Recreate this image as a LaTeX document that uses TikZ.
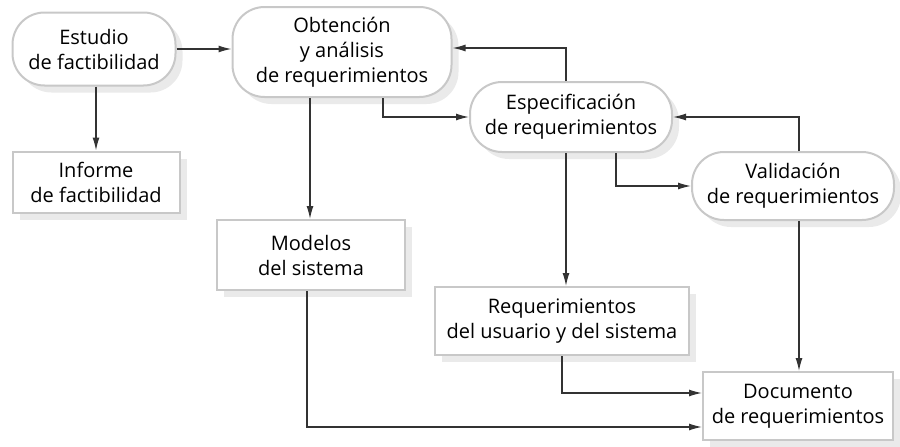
\documentclass[tikz,border=0pt]{standalone}
\usepackage{fontspec}
\setmainfont{Open Sans}
\usepackage{xcolor}
\usetikzlibrary{arrows.meta, shadows}
\definecolor{boxline}{HTML}{C8C8C8}
\definecolor{boxshade}{HTML}{EAEAEA}
\definecolor{wire}{HTML}{333333}

\tikzset{
    base/.style={draw=boxline, line width=2pt, fill=white, align=center,
        font=\fontsize{20}{25}\selectfont, text=black, inner sep=0pt,
        drop shadow={shadow xshift=7pt, shadow yshift=-7pt, fill=boxshade, opacity=1}},
    pill/.style={base, rounded corners=32pt},
    doc/.style={base},
    arr/.style={draw=wire, line width=1.3pt, -{Latex[length=13pt, width=7pt]}}
}

\begin{document}
\begin{tikzpicture}[x=1pt, y=-1pt]
    \useasboundingbox (0,0) rectangle (900,447);

    \node[pill, minimum width=163pt, minimum height=73pt] (est) at (94,49) {Estudio\\de factibilidad};
    \node[pill, minimum width=219pt, minimum height=90pt] (obt) at (342,52) {Obtención\\y análisis\\de requerimientos};
    \node[pill, minimum width=202pt, minimum height=70pt] (esp) at (571,117) {Especificación\\de requerimientos};
    \node[pill, minimum width=202pt, minimum height=68pt] (val) at (793,186) {Validación\\de requerimientos};

    \node[doc, minimum width=167pt, minimum height=61pt] (inf) at (96,182) {Informe\\de factibilidad};
    \node[doc, minimum width=188pt, minimum height=70pt] (mod) at (311,255) {Modelos\\del sistema};
    \node[doc, minimum width=254pt, minimum height=68pt] (req) at (562,321) {Requerimientos\\del usuario y del sistema};
    \node[doc, minimum width=190pt, minimum height=68pt] (docu) at (798,406) {Documento\\de requerimientos};

    \draw[arr] (est.east) -- (est.east -| obt.west);
    \draw[arr] (est.south -| inf.north) -- (inf.north);
    \draw[arr] ([xshift=-32pt]obt.south) -- ([xshift=-32pt]obt.south |- mod.north);
    \draw[arr] ([xshift=41pt]obt.south) |- (esp.west);
    \draw[arr] ([xshift=-5pt]esp.north) |- ([yshift=4pt]obt.east);
    \draw[arr] ([xshift=45pt]esp.south) |- (val.west);
    \draw[arr] ([xshift=6pt]val.north) |- (esp.east);
    \draw[arr] ([xshift=-5pt]esp.south) -- ([xshift=-5pt]esp.south |- req.north);
    \draw[arr] ([xshift=6pt]val.south) -- ([xshift=6pt]val.south |- docu.north);
    \draw[arr] (req.south) |- ([yshift=13pt]docu.west);
    \draw[arr] ([xshift=-4pt]mod.south) |- ([yshift=-21pt]docu.west);
\end{tikzpicture}
\end{document}
